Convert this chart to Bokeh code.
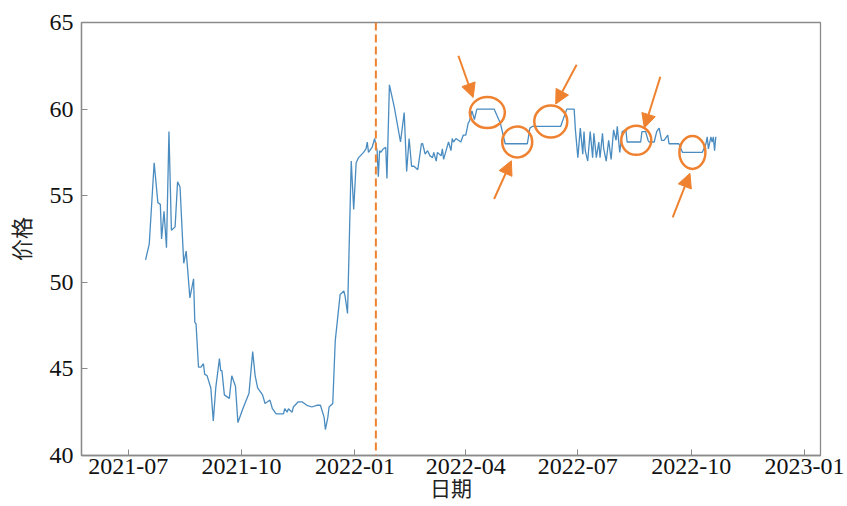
import pandas as pd
from bokeh.plotting import figure
from bokeh.models import Range1d, FixedTicker, DatetimeTickFormatter, Span, Arrow, NormalHead, ColumnDataSource
from bokeh.embed import file_html
from bokeh.resources import INLINE

# ---------------- data ----------------
dates = [
    "2021-07-15", "2021-07-18", "2021-07-22", "2021-07-25", "2021-07-27", "2021-07-28", "2021-07-30",
    "2021-08-01", "2021-08-03", "2021-08-05", "2021-08-08", "2021-08-10", "2021-08-12", "2021-08-15",
    "2021-08-17", "2021-08-20", "2021-08-23", "2021-08-24", "2021-08-25", "2021-08-27", "2021-08-29",
    "2021-08-31", "2021-09-01", "2021-09-03", "2021-09-06", "2021-09-08", "2021-09-10", "2021-09-13",
    "2021-09-14", "2021-09-15", "2021-09-17", "2021-09-21", "2021-09-23", "2021-09-26", "2021-09-28",
    "2021-10-02", "2021-10-07", "2021-10-10", "2021-10-12", "2021-10-14", "2021-10-18", "2021-10-20",
    "2021-10-24", "2021-10-26", "2021-10-29", "2021-10-31", "2021-11-04", "2021-11-05", "2021-11-07",
    "2021-11-08", "2021-11-11", "2021-11-12", "2021-11-16", "2021-11-19", "2021-11-23", "2021-11-27",
    "2021-12-01", "2021-12-04", "2021-12-07", "2021-12-08", "2021-12-10", "2021-12-11", "2021-12-14",
    "2021-12-16", "2021-12-20", "2021-12-23", "2021-12-24", "2021-12-26", "2021-12-29", "2021-12-31",
    "2022-01-02", "2022-01-04", "2022-01-08", "2022-01-10", "2022-01-11", "2022-01-12", "2022-01-14",
    "2022-01-15", "2022-01-17", "2022-01-19", "2022-01-20", "2022-01-21", "2022-01-22", "2022-01-24",
    "2022-01-26", "2022-01-27", "2022-01-29", "2022-02-02", "2022-02-07", "2022-02-10", "2022-02-12",
    "2022-02-14", "2022-02-16", "2022-02-18", "2022-02-21", "2022-02-22", "2022-02-24", "2022-02-25",
    "2022-02-27", "2022-03-01", "2022-03-03", "2022-03-05", "2022-03-06", "2022-03-08", "2022-03-09",
    "2022-03-12", "2022-03-13", "2022-03-14", "2022-03-16", "2022-03-18", "2022-03-20", "2022-03-21",
    "2022-03-22", "2022-03-24", "2022-03-28", "2022-03-30", "2022-04-01", "2022-04-03", "2022-04-04",
    "2022-04-06", "2022-04-08", "2022-04-10", "2022-04-24", "2022-04-29", "2022-05-03", "2022-05-21",
    "2022-05-23", "2022-05-25", "2022-06-17", "2022-06-22", "2022-06-28", "2022-06-29", "2022-07-01",
    "2022-07-03", "2022-07-05", "2022-07-06", "2022-07-07", "2022-07-09", "2022-07-11", "2022-07-13",
    "2022-07-14", "2022-07-16", "2022-07-18", "2022-07-19", "2022-07-21", "2022-07-22", "2022-07-24",
    "2022-07-26", "2022-07-28", "2022-07-30", "2022-08-01", "2022-08-02", "2022-08-04", "2022-08-06",
    "2022-08-09", "2022-08-10", "2022-08-21", "2022-08-22", "2022-08-25", "2022-08-27", "2022-08-28",
    "2022-09-01", "2022-09-03", "2022-09-05", "2022-09-07", "2022-09-09", "2022-09-12", "2022-09-13",
    "2022-09-21", "2022-09-24", "2022-10-10", "2022-10-13", "2022-10-14", "2022-10-15", "2022-10-17",
    "2022-10-18", "2022-10-19", "2022-10-20", "2022-10-21",
]
prices = [
    51.3, 52.2, 56.9, 54.6, 54.5, 52.5, 54.1,
    52.0, 58.7, 53.0, 53.2, 55.8, 55.5, 51.1,
    51.8, 49.1, 50.2, 47.7, 47.6, 45.1, 45.1,
    45.3, 44.7, 44.6, 43.9, 42.0, 43.9, 45.6,
    44.9, 44.9, 43.5, 43.3, 44.6, 44.0, 41.9,
    42.7, 43.6, 46.0, 44.6, 43.9, 43.5, 43.0,
    43.2, 42.7, 42.4, 42.4, 42.4, 42.7, 42.5,
    42.7, 42.5, 42.8, 43.1, 43.1, 42.9, 42.8,
    42.9, 42.9, 42.2, 41.5, 42.2, 42.8, 43.0,
    46.6, 49.3, 49.5, 49.2, 48.2, 57.0, 54.2,
    56.9, 57.2, 57.5, 57.7, 58.1, 57.5, 57.7,
    57.8, 58.3, 57.6, 56.1, 57.6, 57.5, 57.7,
    57.8, 56.0, 61.4, 60.1, 58.1, 59.8, 56.4,
    58.3, 56.7, 56.7, 56.5, 57.0, 58.0, 58.0,
    57.4, 57.6, 57.3, 57.2, 57.5, 57.0, 57.5,
    57.3, 57.7, 57.1, 57.6, 58.1, 57.6, 58.3,
    58.1, 58.3, 58.1, 58.5, 58.5, 59.2, 59.3,
    59.9, 59.4, 60.0, 60.0, 59.2, 58.0, 58.0,
    58.9, 59.0, 59.0, 60.0, 60.0, 58.8, 57.2,
    58.9, 57.4, 58.7, 57.6, 57.0, 58.7, 57.2,
    58.6, 57.2, 58.1, 57.2, 58.6, 57.7, 57.0,
    58.2, 57.1, 58.8, 58.2, 59.0, 57.5, 58.7,
    58.8, 58.1, 58.1, 58.7, 58.7, 58.2, 58.1,
    58.1, 58.7, 58.9, 58.2, 58.2, 58.5, 58.0,
    58.0, 57.5, 57.5, 58.0, 58.4, 57.7, 58.4,
    58.1, 58.4, 57.6, 58.4,
]
x_tick_dates = ["2021-07-01", "2021-10-01", "2022-01-01", "2022-04-01", "2022-07-01", "2022-10-01", "2023-01-01"]
y_ticks = [40, 45, 50, 55, 60, 65]
x_start, x_end = "2021-05-24", "2023-01-14"
y_start, y_end = 40, 65
split_date = "2022-01-18"
x_title = "日期"
y_title = "价格"

ring_dates = ["2022-04-18 12:00", "2022-05-12 18:00", "2022-06-09", "2022-08-17 10:00", "2022-10-02"]
ring_prices = [59.8, 58.1, 59.28, 58.2, 57.5]

arrow_from_dates = ["2022-03-26", "2022-04-24", "2022-06-30", "2022-09-06", "2022-09-16"]
arrow_from_prices = [63.08, 54.81, 62.56, 61.87, 53.75]
arrow_to_dates = ["2022-04-07", "2022-05-08", "2022-06-13", "2022-08-24", "2022-09-30"]
arrow_to_prices = [60.67, 57.02, 60.29, 58.91, 56.29]


def ms(d):
    return pd.to_datetime(d).value / 1e6


BLUE = "#4a8cc0"
ORANGE = "#EF8230"
GRAY = "#8a8a8a"
SERIF = "Liberation Serif"
CJK = "Noto Sans CJK SC"

p = figure(width=847, height=506, x_axis_type="datetime", output_backend="svg",
           toolbar_location=None, min_border_left=81, min_border_right=27,
           min_border_top=22, min_border_bottom=51,
           x_range=Range1d(ms(x_start), ms(x_end)), y_range=Range1d(y_start, y_end))

p.xgrid.visible = False
p.ygrid.visible = False
p.outline_line_color = GRAY
p.outline_line_width = 1.3
p.background_fill_color = "white"
p.border_fill_color = "white"

for ax in (p.xaxis[0], p.yaxis[0]):
    ax.axis_line_color = GRAY
    ax.axis_line_width = 1.3
    ax.major_tick_line_color = GRAY
    ax.major_tick_in = 6
    ax.major_tick_out = 0
    ax.minor_tick_line_color = None
    ax.major_label_text_font = SERIF
    ax.major_label_text_font_size = "24px"
    ax.major_label_text_color = "#111111"
    ax.axis_label_text_font = CJK
    ax.axis_label_text_font_style = "normal"
    ax.axis_label_text_color = "#222222"

p.xaxis.ticker = FixedTicker(ticks=[ms(d) for d in x_tick_dates])
p.xaxis.formatter = DatetimeTickFormatter(days="%Y-%m", months="%Y-%m", years="%Y-%m")
p.xaxis.major_label_standoff = 3
p.xaxis.axis_label = x_title
p.xaxis.axis_label_text_font_size = "21px"
p.xaxis.axis_label_standoff = -5

p.yaxis.ticker = FixedTicker(ticks=y_ticks)
p.yaxis.major_label_standoff = 8
p.yaxis.axis_label = y_title
p.yaxis.axis_label_text_font_size = "22px"
p.yaxis.axis_label_standoff = 11

src = ColumnDataSource(dict(x=[ms(d) for d in dates], y=prices))
p.line("x", "y", source=src, line_color=BLUE, line_width=1.3)

p.add_layout(Span(location=ms(split_date), dimension="height", line_color=ORANGE,
                  line_width=2, line_dash="8 4"))

ring_w = [35, 30, 33, 30, 26]
ring_h = [31, 31, 32, 29, 33]
p.ellipse(x=[ms(d) for d in ring_dates], y=ring_prices, width=ring_w, height=ring_h,
          width_units="screen", height_units="screen", fill_color=None,
          line_color=ORANGE, line_width=2.5)

for d0, v0, d1, v1 in zip(arrow_from_dates, arrow_from_prices, arrow_to_dates, arrow_to_prices):
    p.add_layout(Arrow(x_start=ms(d0), y_start=v0, x_end=ms(d1), y_end=v1,
                       line_color=ORANGE, line_width=2,
                       end=NormalHead(size=14, fill_color=ORANGE, line_color=ORANGE)))

open("out.html", "w").write(file_html(p, INLINE))
